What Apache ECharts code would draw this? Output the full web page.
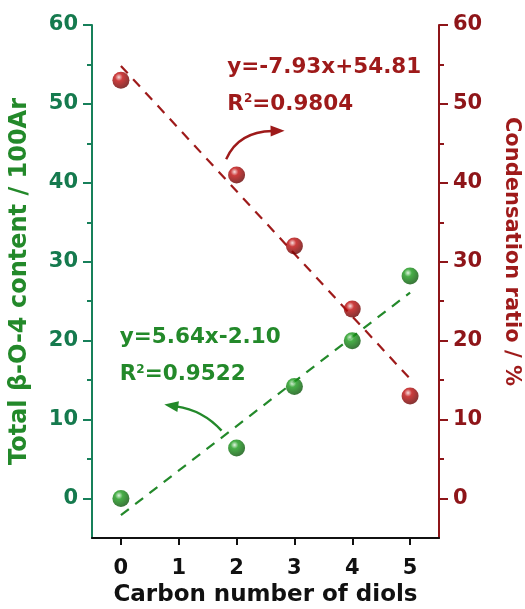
<!DOCTYPE html>
<html>
<head>
<meta charset="utf-8">
<script src="https://cdn.jsdelivr.net/npm/echarts@6/dist/echarts.min.js"></script>
<style>
html,body{margin:0;padding:0;background:#fff;}
#c{width:525px;height:609px;}
</style>
</head>
<body>
<div id="c"></div>
<script>
// ---- data ----
const carbon = [0, 2, 3, 4, 5];
const betaO4 = [0, 6.4, 14.2, 20.0, 28.2];
const condensation = [53.0, 41.0, 32.0, 24.0, 13.0];
const fitX = [0, 5];
const betaFitY = [-2.10, 26.10];
const condFitY = [54.81, 15.16];
const xTickValues = [0, 1, 2, 3, 4, 5];
const yMajorTicks = [0, 10, 20, 30, 40, 50, 60];
const yMinorTicks = [5, 15, 25, 35, 45, 55];
const greenEq = ['y=5.64x-2.10', '0.9522'];
const redEq = ['y=-7.93x+54.81', '0.9804'];

const FONT = '"DejaVu Sans", "Liberation Sans", Arial, sans-serif';
const GREEN_AX = '#17805a';
const GREEN_LBL = '#157a4e';
const GREEN = '#23892a';
const RED_AX = '#8e1519';
const RED = '#9e1a1a';

const chart = echarts.init(document.getElementById('c'), null, {renderer: 'canvas'});

function zip(xs, ys) { return xs.map((x, i) => [x, ys[i]]); }

function sphere(light, mid, dark) {
  return {
    type: 'radial', x: 0.38, y: 0.32, r: 0.75,
    colorStops: [
      {offset: 0, color: light},
      {offset: 0.3, color: mid},
      {offset: 1, color: dark}
    ]
  };
}

function yAx(pos, color, lblColor, name, nameColor, minor, nameSize) {
  const o = {
    type: 'value', position: pos, min: -5, max: 60,
    splitLine: {show: false},
    axisLine: {show: !minor, onZero: false, lineStyle: {color: color, width: 2}},
    axisTick: {show: true, inside: false, length: minor ? 5 : 9,
      customValues: minor ? yMinorTicks : yMajorTicks,
      lineStyle: {color: color, width: 2}},
    axisLabel: minor ? {show: false} : {show: true, customValues: yMajorTicks,
      margin: 14, color: lblColor, fontFamily: FONT, fontWeight: 'bold', fontSize: 21}
  };
  if (!minor) {
    o.name = name;
    o.nameLocation = 'middle';
    o.nameGap = 60;
    o.nameTextStyle = {color: nameColor, fontFamily: FONT, fontWeight: 'bold', fontSize: nameSize};
    if (pos === 'right') {
      o.nameRotate = -90;
      o.nameGap = 62;
      o.nameTextStyle.padding = [0, 60, 0, 0];
    }
  }
  return o;
}

const option = {
  backgroundColor: '#fff',
  animation: false,
  grid: {left: 92, right: 86, top: 25, bottom: 71, containLabel: false, outerBoundsMode: 'none'},
  xAxis: {
    type: 'value', min: -0.5, max: 5.5,
    splitLine: {show: false},
    axisLine: {onZero: false, lineStyle: {color: '#111', width: 2}},
    axisTick: {customValues: xTickValues, length: 7, lineStyle: {color: '#111', width: 2}},
    axisLabel: {customValues: xTickValues, margin: 20, color: '#111',
      fontFamily: FONT, fontWeight: 'bold', fontSize: 21},
    name: 'Carbon number of diols', nameLocation: 'middle', nameGap: 43,
    nameTextStyle: {color: '#111', fontFamily: FONT, fontWeight: 'bold', fontSize: 23}
  },
  yAxis: [
    yAx('left', GREEN_AX, GREEN_LBL, 'Total \u03B2-O-4 content / 100Ar', GREEN, false, 24),
    yAx('right', RED_AX, RED_AX, 'Condensation ratio / %', RED, false, 21),
    yAx('left', GREEN_AX, GREEN_LBL, '', GREEN, true, 0),
    yAx('right', RED_AX, RED_AX, '', RED, true, 0)
  ],
  series: [
    {type: 'line', yAxisIndex: 0, data: zip(fitX, betaFitY), symbol: 'none', z: 2,
      lineStyle: {color: GREEN, width: 2.2, type: [10, 8]}},
    {type: 'line', yAxisIndex: 1, data: zip(fitX, condFitY), symbol: 'none', z: 2,
      lineStyle: {color: RED, width: 2.2, type: [10, 8]}},
    {type: 'scatter', yAxisIndex: 0, data: zip(carbon, betaO4), symbolSize: 17, z: 5,
      itemStyle: {color: sphere('#d9f2d9', '#1a9a1a', '#064a06')}},
    {type: 'scatter', yAxisIndex: 1, data: zip(carbon, condensation), symbolSize: 17, z: 5,
      itemStyle: {color: sphere('#f5d5d5', '#c00d0d', '#5a0000')}}
  ]
};
chart.setOption(option);

// ---- annotations placed through the axes ----
const P = (x, y) => chart.convertToPixel({xAxisIndex: 0, yAxisIndex: 0}, [x, y]);

function eqTexts(lines, anchorX, y1, y2, color) {
  const a = P(anchorX, y1), b = P(anchorX, y2);
  const font = {fontFamily: FONT, fontWeight: 'bold', fontSize: 21.5};
  return [
    {type: 'text', z: 10, style: Object.assign({text: lines[0], x: a[0], y: a[1],
      fill: color, textAlign: 'left', textVerticalAlign: 'middle'}, font)},
    {type: 'text', z: 10, style: {text: '{n|R}{s|2}{n|=' + lines[1] + '}', x: b[0], y: b[1],
      textAlign: 'left', textVerticalAlign: 'middle',
      rich: {
        n: Object.assign({fill: color}, font),
        s: {fill: color, fontFamily: FONT, fontWeight: 'bold', fontSize: 12, verticalAlign: 'top'}
      }}}
  ];
}

function arrow(s, c, t, color) {
  const p0 = P(s[0], s[1]), p1 = P(c[0], c[1]), p2 = P(t[0], t[1]);
  const dx = p2[0] - p1[0], dy = p2[1] - p1[1];
  const L = Math.sqrt(dx * dx + dy * dy);
  const ux = dx / L, uy = dy / L;
  const hl = 14, hw = 5.5;
  const bx = p2[0] - ux * hl, by = p2[1] - uy * hl;
  return [
    {type: 'bezierCurve', z: 10, shape: {x1: p0[0], y1: p0[1], cpx1: p1[0], cpy1: p1[1],
      x2: bx + ux * 2, y2: by + uy * 2}, style: {stroke: color, lineWidth: 2.4, fill: null}},
    {type: 'polygon', z: 10, shape: {points: [[p2[0], p2[1]],
      [bx - uy * hw, by + ux * hw], [bx + uy * hw, by - ux * hw]]},
      style: {fill: color}}
  ];
}

const graphics = []
  .concat(eqTexts(redEq, 1.84, 54.6, 50.0, RED))
  .concat(eqTexts(greenEq, -0.02, 20.4, 15.7, GREEN))
  .concat(arrow([1.82, 43.0], [2.03, 46.5], [2.83, 46.6], RED))
  .concat(arrow([1.74, 8.6], [1.42, 11.2], [0.75, 11.9], GREEN));

chart.setOption({graphic: graphics});
</script>
</body>
</html>
